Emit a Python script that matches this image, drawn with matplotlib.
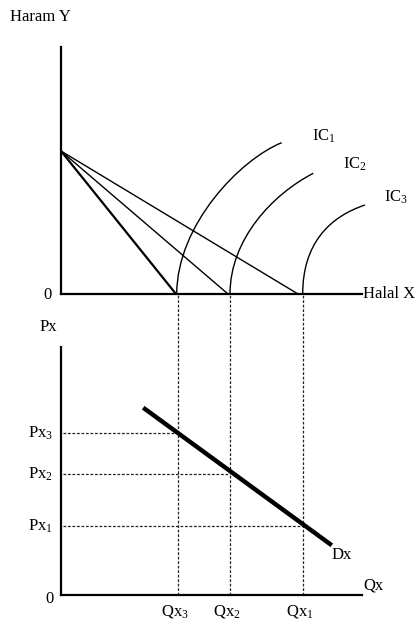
import matplotlib.pyplot as plt
from matplotlib.path import Path
from matplotlib.patches import PathPatch

plt.rcParams['font.family'] = ['Liberation Serif', 'DejaVu Serif']
plt.rcParams['mathtext.default'] = 'regular'

# budget line: common intercept on Y, three intercepts on X
y_intercept = 143
budget_x = [115, 167, 237]
budget_lw = [1.6, 1.0, 1.0]

# quantities demanded (Qx1 > Qx2 > Qx3) and prices (Px1 < Px2 < Px3)
qx = [242, 169, 117]
px = [69, 121, 162]
q_labels = ['Qx$_1$', 'Qx$_2$', 'Qx$_3$']
p_labels = ['Px$_1$', 'Px$_2$', 'Px$_3$']

# indifference curves as bezier control points (start, c1, c2, end)
ic_labels = ['IC$_1$', 'IC$_2$', 'IC$_3$']
ic1 = [(115.7, 0), (116, 70), (180, 135), (220.7, 151.3)]
ic2 = [(169, 0), (169, 55), (212, 100), (252.3, 120.7)]
ic3 = [(241.7, 0), (241.7, 50), (268, 77), (304, 89)]
ic_label_pos = [(251, 158), (282, 130), (323, 97)]

# demand curve end points
dx_x = [84, 269]
dx_y = [186, 51]

W, H = 416, 620
fig = plt.figure(figsize=(W / 100, H / 100), dpi=100)
ax1 = fig.add_axes([61 / W, 1 - 294 / H, 301 / W, 247 / H])
ax2 = fig.add_axes([61 / W, 1 - 595 / H, 301 / W, 248 / H])
ax1.set_xlim(0, 301)
ax1.set_ylim(0, 247)
ax2.set_xlim(0, 301)
ax2.set_ylim(0, 248)

for ax in (ax1, ax2):
    ax.patch.set_alpha(0)
    ax.set_xticks([])
    ax.set_yticks([])
    for s in ('top', 'right'):
        ax.spines[s].set_visible(False)
    for s in ('left', 'bottom'):
        ax.spines[s].set_linewidth(1.6)
        ax.spines[s].set_zorder(5)

fs = 12

# top panel
for bx, lw in zip(budget_x, budget_lw):
    ax1.plot([0, bx], [y_intercept, 0], color='black', lw=lw)
codes = [Path.MOVETO, Path.CURVE4, Path.CURVE4, Path.CURVE4]
for pts in (ic1, ic2, ic3):
    ax1.add_patch(PathPatch(Path(pts, codes), fill=False, edgecolor='black',
                            lw=1.0, clip_on=False))
for lab, (lx, ly) in zip(ic_labels, ic_label_pos):
    ax1.text(lx, ly, lab, fontsize=fs, ha='left', va='center')
ax1.text(-51, 277, 'Haram Y', fontsize=fs, ha='left', va='center', clip_on=False)
ax1.text(-14, -1, '0', fontsize=fs, ha='center', va='center')
ax1.text(302, 0, 'Halal X', fontsize=fs, ha='left', va='center')

# bottom panel
for q in qx:
    ax2.plot([q, q], [0, 301], color='#222222', lw=0.9, ls=(0, (2.2, 1.4)), clip_on=False)
for q, p in zip(qx, px):
    ax2.plot([2, q], [p, p], color='#222222', lw=0.9, ls=(0, (2.2, 1.4)))
ax2.plot(dx_x, dx_y, color='black', lw=3.2, zorder=4)
for q, lab in zip(qx, q_labels):
    ax2.text(q - 3, -16, lab, fontsize=fs, ha='center', va='center')
for p, lab in zip(px, p_labels):
    ax2.text(-8, p, lab, fontsize=fs, ha='right', va='center')
ax2.text(-21, 268, 'Px', fontsize=fs, ha='left', va='center')
ax2.text(271, 40, 'Dx', fontsize=fs, ha='left', va='center')
ax2.text(302, 10, 'Qx', fontsize=fs, ha='left', va='center')
ax2.text(-12, -4, '0', fontsize=fs, ha='center', va='center')

fig.savefig('out.png', dpi=100)
